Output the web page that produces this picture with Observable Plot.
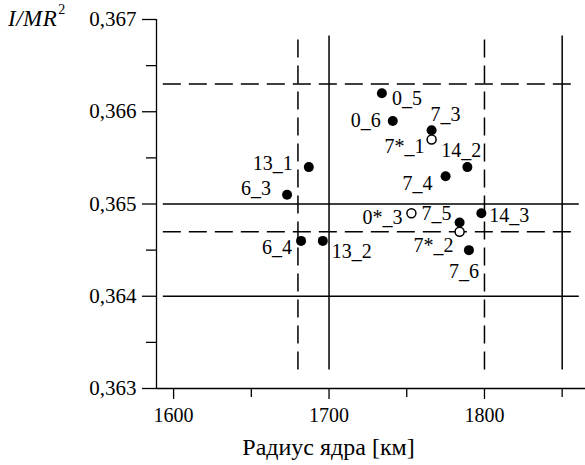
<!DOCTYPE html>
<html>
<head>
<meta charset="utf-8">
<script src="https://cdn.jsdelivr.net/npm/d3@7"></script>
<script src="https://cdn.jsdelivr.net/npm/@observablehq/plot@0.6"></script>
<style>
  html, body { margin: 0; padding: 0; background: #fff; }
  #wrap { position: relative; width: 585px; height: 465px; }
  #ylab { position: absolute; left: 8px; top: 6px; font-size: 23px; font-style: italic; font-weight: normal; color: #000; line-height: 1; font-family: "Liberation Serif", "Times New Roman", serif; letter-spacing: 0.5px; }
  #ylab sup { font-style: normal; font-size: 14px; position: relative; top: -3px; margin-left: 1px; }
</style>
</head>
<body>
<div id="wrap">
  <div id="chart"></div>
  <div id="ylab">I/MR<sup>2</sup></div>
</div>
<script>
// ---- data ----
const names   = ["0_5", "0_6", "7_3", "7*_1", "14_2", "7_4", "13_1", "6_3", "0*_3", "7_5", "14_3", "7*_2", "7_6", "6_4", "13_2"];
const radius  = [1734, 1741, 1766, 1766, 1789, 1775, 1687, 1673, 1753, 1784, 1798, 1784, 1790, 1682, 1696];
const inertia = [0.3662, 0.3659, 0.3658, 0.3657, 0.3654, 0.3653, 0.3654, 0.3651, 0.3649, 0.3648, 0.3649, 0.3647, 0.3645, 0.3646, 0.3646];
const hollow  = [false, false, false, true, false, false, false, false, true, false, false, true, false, false, false];

const hLines  = [0.3663, 0.365, 0.3647, 0.364];
const hDashed = [true, false, true, false];
const vLines  = [1680, 1700, 1800, 1850];
const vDashed = [true, false, true, false];

const xTicks = [1600, 1700, 1800];
const xMinor = [1650, 1750, 1850];
const yTicks = [0.363, 0.364, 0.365, 0.366, 0.367];
const yMinor = [0.3635, 0.3645, 0.3655, 0.3665];

const xTitle = "Радиус ядра [км]";

// ---- label placement (layout only) ----
const labelPlace = {
  "0_5":  {a: "start",  dx: 10,  dy: 5},
  "0_6":  {a: "end",    dx: -12, dy: 0},
  "7_3":  {a: "middle", dx: 14,  dy: -16},
  "7*_1": {a: "end",    dx: -7,  dy: 7},
  "14_2": {a: "middle", dx: -6,  dy: -17},
  "7_4":  {a: "end",    dx: -13, dy: 7},
  "13_1": {a: "end",    dx: -16, dy: -4},
  "6_3":  {a: "end",    dx: -16, dy: -6},
  "0*_3": {a: "end",    dx: -9,  dy: 4},
  "7_5":  {a: "end",    dx: -8,  dy: -9},
  "14_3": {a: "start",  dx: 8,   dy: 2},
  "7*_2": {a: "end",    dx: -6,  dy: 14},
  "7_6":  {a: "middle", dx: -5,  dy: 21},
  "6_4":  {a: "end",    dx: -9,  dy: 7},
  "13_2": {a: "start",  dx: 9,   dy: 11}
};

const FONT = "Liberation Serif";

const pts = names.map((n, i) => ({name: n, r: radius[i], v: inertia[i], hollow: hollow[i]}));
const hl = hLines.map((y, i) => ({y, dashed: hDashed[i]}));
const vl = vLines.map((x, i) => ({x, dashed: vDashed[i]}));

const fmt = d => d.toFixed(3).replace(".", ",");
const dash = "18,8";
const xLo = 1593.4, xHi = 1861, yLo = 0.3632, yHi = 0.36682;

const marks = [
  Plot.ruleY(hl.filter(d => !d.dashed), {y: "y", x1: xLo, x2: xHi, stroke: "#000", strokeWidth: 1.5}),
  Plot.ruleY(hl.filter(d => d.dashed), {y: "y", x1: xLo, x2: xHi, stroke: "#000", strokeWidth: 1.5, strokeDasharray: dash}),
  Plot.ruleX(vl.filter(d => !d.dashed), {x: "x", y1: yLo, y2: yHi, stroke: "#000", strokeWidth: 1.5}),
  Plot.ruleX(vl.filter(d => d.dashed), {x: "x", y1: yLo, y2: yHi, stroke: "#000", strokeWidth: 1.5, strokeDasharray: dash}),
  Plot.ruleX([1589], {y1: 0.363, y2: 0.367, stroke: "#000", strokeWidth: 1.3}),
  Plot.ruleY([0.363], {x1: 1589, x2: 1865, stroke: "#000", strokeWidth: 1.3}),
  Plot.axisY(yTicks, {tickSize: 14, tickPadding: 6, tickFormat: fmt, fontSize: 21, fontFamily: FONT, stroke: "#000", strokeWidth: 1.3, fill: "#000"}),
  Plot.axisY(yMinor, {tickSize: 10, tickFormat: () => "", stroke: "#000", strokeWidth: 1.3}),
  Plot.axisX(xTicks, {tickSize: 11, tickPadding: 8, tickFormat: d => String(d), fontSize: 20, fontFamily: FONT, stroke: "#000", strokeWidth: 1.3, fill: "#000"}),
  Plot.axisX(xMinor, {tickSize: 9, tickFormat: () => "", stroke: "#000", strokeWidth: 1.3}),
  Plot.dot(pts.filter(d => !d.hollow), {x: "r", y: "v", r: 5, fill: "#000", stroke: "none"}),
  Plot.dot(pts.filter(d => d.hollow), {x: "r", y: "v", r: 4.5, fill: "#fff", stroke: "#000", strokeWidth: 1.5})
];

for (const a of ["start", "middle", "end"]) {
  for (const p of pts.filter(d => labelPlace[d.name].a === a)) {
    const L = labelPlace[p.name];
    marks.push(Plot.text([p], {x: "r", y: "v", text: "name", textAnchor: a, dx: L.dx, dy: L.dy, fontSize: 20, fontFamily: FONT, fill: "#000"}));
  }
}

marks.push(Plot.text([xTitle], {frameAnchor: "bottom-left", text: d => d, dx: 172, dy: 59, lineAnchor: "middle", textAnchor: "middle", fontSize: 24, fontFamily: FONT, fill: "#000"}));

const chart = Plot.plot({
  width: 585,
  height: 465,
  marginLeft: 156,
  marginRight: 0,
  marginTop: 19,
  marginBottom: 77,
  style: {background: "#fff", color: "#000", overflow: "visible"},
  x: {domain: [1589, 1865]},
  y: {domain: [0.363, 0.367]},
  marks
});
document.getElementById("chart").appendChild(chart);
</script>
</body>
</html>
